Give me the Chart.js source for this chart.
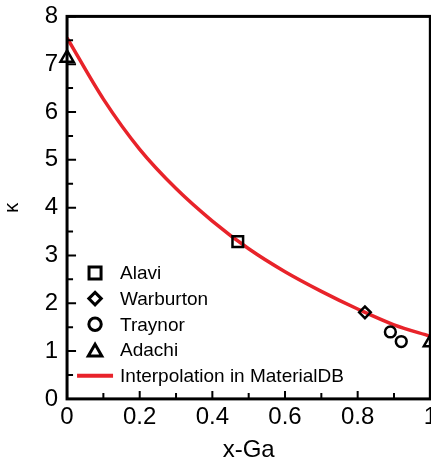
<!DOCTYPE html>
<html>
<head>
<meta charset="utf-8">
<script src="https://cdn.jsdelivr.net/npm/chart.js@4.4.1/dist/chart.umd.min.js"></script>
<style>
html, body { margin: 0; padding: 0; background: #fff; overflow: hidden; }
#wrap { width: 431px; height: 466px; overflow: hidden; }
#kappa_chart { display: block; margin-top: -7px; }
</style>
</head>
<body>
<div id="wrap"><canvas id="kappa_chart" width="441" height="473"></canvas></div>
<script>
// measured dielectric constant vs Ga fraction
var alaviX = [0.47];
var alaviY = [3.29];
var warburtonX = [0.82];
var warburtonY = [1.81];
var traynorX = [0.89, 0.92];
var traynorY = [1.40, 1.20];
var adachiX = [0, 1];
var adachiY = [7.13, 1.18];

// MaterialDB interpolation curve
var curveX = [0, 0.1, 0.2, 0.3, 0.4, 0.5, 0.6, 0.7, 0.8, 0.9, 1.0];
var curveY = [7.55, 6.27, 5.22, 4.40, 3.72, 3.14, 2.66, 2.25, 1.88, 1.55, 1.31];

var xTicks = [0, 0.2, 0.4, 0.6, 0.8, 1];
var xTickLabels = ['0', '0.2', '0.4', '0.6', '0.8', '1'];
var xMinor = [0.1, 0.3, 0.5, 0.7, 0.9];
var yTicks = [0, 1, 2, 3, 4, 5, 6, 7, 8];
var yMinor = [0.5, 1.5, 2.5, 3.5, 4.5, 5.5, 6.5, 7.5];

var FONT = "'Liberation Sans', Arial, Helvetica, sans-serif";
var RED = '#e8232a';

function pts(xs, ys) {
    var out = [];
    for (var i = 0; i < xs.length; ++i) out.push({x: xs[i], y: ys[i]});
    return out;
}

function marker(label, xs, ys, style, r) {
    return {
        label: label,
        data: pts(xs, ys),
        pointStyle: style,
        pointRadius: r,
        pointBorderWidth: 2.5,
        pointBorderColor: '#000',
        pointBackgroundColor: 'rgba(0,0,0,0)',
        showLine: false,
        clip: false
    };
}

// draw one marker shape (used by the legend)
function drawShape(ctx, style, x, y, r) {
    ctx.beginPath();
    if (style === 'rect') {
        var s = Math.SQRT1_2 * r;
        ctx.rect(x - s, y - s, 2 * s, 2 * s);
    } else if (style === 'rectRot') {
        ctx.moveTo(x, y - r); ctx.lineTo(x + r, y); ctx.lineTo(x, y + r); ctx.lineTo(x - r, y);
        ctx.closePath();
    } else if (style === 'circle') {
        ctx.arc(x, y, r, 0, Math.PI * 2);
    } else if (style === 'triangle') {
        var a = 0;
        ctx.moveTo(x + Math.sin(a) * r, y - Math.cos(a) * r);
        a += Math.PI * 2 / 3;
        ctx.lineTo(x + Math.sin(a) * r, y - Math.cos(a) * r);
        a += Math.PI * 2 / 3;
        ctx.lineTo(x + Math.sin(a) * r, y - Math.cos(a) * r);
        ctx.closePath();
    }
    ctx.stroke();
}

// box frame plus inward tick marks
var frameTicks = {
    id: 'frameTicks',
    afterDatasetsDraw: function(chart) {
        var ctx = chart.ctx, a = chart.chartArea;
        var xs = chart.scales.x, ys = chart.scales.y;
        ctx.save();
        ctx.strokeStyle = '#000';
        ctx.lineWidth = 2;
        ctx.beginPath();
        xTicks.forEach(function(v) { var p = xs.getPixelForValue(v); ctx.moveTo(p, a.bottom); ctx.lineTo(p, a.bottom - 8); });
        xMinor.forEach(function(v) { var p = xs.getPixelForValue(v); ctx.moveTo(p, a.bottom); ctx.lineTo(p, a.bottom - 6); });
        yTicks.forEach(function(v) { var p = ys.getPixelForValue(v); ctx.moveTo(a.left, p); ctx.lineTo(a.left + 9, p); });
        yMinor.forEach(function(v) { var p = ys.getPixelForValue(v); ctx.moveTo(a.left, p); ctx.lineTo(a.left + 6, p); });
        ctx.stroke();
        ctx.lineWidth = 3;
        ctx.strokeRect(a.left, a.top, a.right - a.left, a.bottom - a.top);
        ctx.restore();
    }
};

// legend sitting inside the lower-left of the plot
var insideLegend = {
    id: 'insideLegend',
    afterDraw: function(chart) {
        var ctx = chart.ctx, a = chart.chartArea;
        var mx = a.left + 28, tx = a.left + 53, y0 = a.top + 256.5, dy = 25.7;
        ctx.save();
        ctx.font = '19px ' + FONT;
        ctx.textBaseline = 'middle';
        ctx.fillStyle = '#000';
        chart.data.datasets.forEach(function(ds, i) {
            var y = y0 + i * dy;
            if (ds.showLine) {
                ctx.strokeStyle = ds.borderColor;
                ctx.lineWidth = 4;
                ctx.beginPath();
                ctx.moveTo(mx - 18, y); ctx.lineTo(mx + 18, y);
                ctx.stroke();
            } else {
                ctx.strokeStyle = '#000';
                ctx.lineWidth = 3;
                var st = ds.pointStyle;
                var r = st === 'rect' ? 8.5 : (st === 'triangle' ? 7.8 : 6.2);
                drawShape(ctx, st, mx, st === 'triangle' ? y + 2 : y, r);
            }
            ctx.fillText(ds.label, tx, y + 1);
        });
        ctx.restore();
    }
};

var ctx = document.getElementById('kappa_chart').getContext('2d');
var chart = new Chart(ctx, {
    type: 'scatter',
    data: {
        datasets: [
            marker('Alavi', alaviX, alaviY, 'rect', 7.5),
            marker('Warburton', warburtonX, warburtonY, 'rectRot', 5.8),
            marker('Traynor', traynorX, traynorY, 'circle', 5.4),
            marker('Adachi', adachiX, adachiY, 'triangle', 7.5),
            {
                label: 'Interpolation in MaterialDB',
                data: pts(curveX, curveY),
                showLine: true,
                borderColor: RED,
                borderWidth: 3.5,
                pointRadius: 0,
                cubicInterpolationMode: 'monotone'
            }
        ]
    },
    options: {
        responsive: false,
        animation: false,
        devicePixelRatio: 1,
        layout: { padding: { left: 0, right: 0, top: 0, bottom: 0 } },
        plugins: {
            legend: { display: false },
            tooltip: { enabled: false }
        },
        scales: {
            x: {
                type: 'linear',
                min: 0,
                max: 1,
                afterBuildTicks: function(s) { s.ticks = xTicks.map(function(v) { return {value: v}; }); },
                ticks: {
                    color: '#000',
                    font: { family: FONT, size: 24 },
                    padding: 4,
                    maxRotation: 0,
                    callback: function(v, i) { return xTickLabels[i]; }
                },
                grid: { display: false, drawTicks: false, tickLength: 0 },
                border: { display: false },
                title: {
                    display: true,
                    text: 'x-Ga',
                    color: '#000',
                    font: { family: FONT, size: 24 },
                    padding: { top: 0, bottom: 1.5 }
                }
            },
            y: {
                type: 'linear',
                min: 0,
                max: 8,
                afterBuildTicks: function(s) { s.ticks = yTicks.map(function(v) { return {value: v}; }); },
                ticks: {
                    color: '#000',
                    font: { family: FONT, size: 24 },
                    padding: 9
                },
                grid: { display: false, drawTicks: false, tickLength: 0 },
                border: { display: false },
                title: {
                    display: true,
                    text: 'κ',
                    color: '#000',
                    font: { family: FONT, size: 20 },
                    padding: { top: 0, bottom: 11.7 }
                }
            }
        }
    },
    plugins: [frameTicks, insideLegend]
});
</script>
</body>
</html>
